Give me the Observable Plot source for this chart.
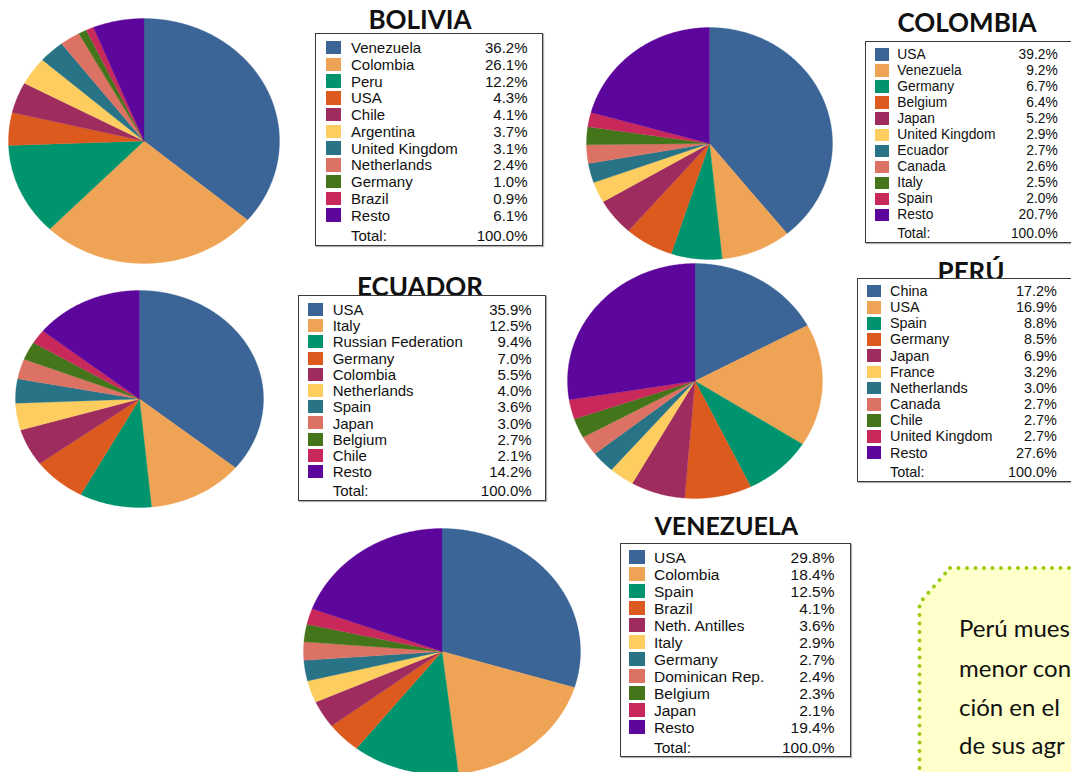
<!DOCTYPE html>
<html><head><meta charset="utf-8">
<script src="https://cdn.jsdelivr.net/npm/d3@7"></script>
<script src="https://cdn.jsdelivr.net/npm/@observablehq/plot@0.6"></script>
<style>
html,body{margin:0;padding:0;background:#fff;overflow:hidden}
#page{position:relative;width:1071px;height:772px;overflow:hidden;background:#fff}
.title{position:absolute;font-family:Lato,sans-serif;font-weight:700;line-height:1;color:#111;white-space:nowrap;transform:translateX(-50%)}
.legend{position:absolute;box-sizing:border-box;border:1px solid #3a3a3a;background:#fff;font-family:"Liberation Sans",Arial,sans-serif;color:#111;box-shadow:1px 1px 1px rgba(0,0,0,0.3)}
.legend .sw{position:absolute}
.legend .nm,.legend .pc{position:absolute;white-space:nowrap;line-height:1}
.legend .pc{text-align:right}
.pie{position:absolute}
.note{position:absolute;font-family:Lato,sans-serif;font-size:24px;line-height:24px;color:#111;white-space:nowrap}
</style></head><body><div id="page"></div>
<script>
// ---- data ----
const palette = ["#3b6597","#efa354","#00946e","#dd5a1e","#9e2c5f","#fdcd60","#297387","#dc7263","#44751a","#c9285a","#5d069b"];
const totalLabel = "Total:";
const totalValue = "100.0%";

const boliviaNames = ["Venezuela","Colombia","Peru","USA","Chile","Argentina","United Kingdom","Netherlands","Germany","Brazil","Resto"];
const boliviaValues = [36.2,26.1,12.2,4.3,4.1,3.7,3.1,2.4,1.0,0.9,6.1];

const colombiaNames = ["USA","Venezuela","Germany","Belgium","Japan","United Kingdom","Ecuador","Canada","Italy","Spain","Resto"];
const colombiaValues = [39.2,9.2,6.7,6.4,5.2,2.9,2.7,2.6,2.5,2.0,20.7];

const ecuadorNames = ["USA","Italy","Russian Federation","Germany","Colombia","Netherlands","Spain","Japan","Belgium","Chile","Resto"];
const ecuadorValues = [35.9,12.5,9.4,7.0,5.5,4.0,3.6,3.0,2.7,2.1,14.2];

const peruNames = ["China","USA","Spain","Germany","Japan","France","Netherlands","Canada","Chile","United Kingdom","Resto"];
const peruValues = [17.2,16.9,8.8,8.5,6.9,3.2,3.0,2.7,2.7,2.7,27.6];

const venezuelaNames = ["USA","Colombia","Spain","Brazil","Neth. Antilles","Italy","Germany","Dominican Rep.","Belgium","Japan","Resto"];
const venezuelaValues = [29.8,18.4,12.5,4.1,3.6,2.9,2.7,2.4,2.3,2.1,19.4];

const titles = ["BOLIVIA","COLOMBIA","ECUADOR","PERÚ","VENEZUELA"];
const noteLines = ["Perú mues","menor con","ción en el","de sus agr"];

// ---- helpers ----
const page = document.getElementById("page");

function slicePoints(names, values){
  const total = d3.sum(values);
  const pts = [];
  let acc = 0;
  names.forEach((n,i)=>{
    const a0 = acc/total*2*Math.PI; acc += values[i]; const a1 = acc/total*2*Math.PI;
    pts.push({name:n,x:0,y:0});
    const steps = Math.max(2, Math.ceil((a1-a0)/(Math.PI/360)));
    for(let k=0;k<=steps;k++){const a=a0+(a1-a0)*k/steps; pts.push({name:n,x:Math.sin(a),y:Math.cos(a)});}
    pts.push({name:n,x:0,y:0});
  });
  return pts;
}

function pie(names, values, cx, cy, rx, ry){
  const chart = Plot.plot({
    width: 2*rx, height: 2*ry, margin: 0,
    x:{domain:[-1,1], axis:null}, y:{domain:[-1,1], axis:null},
    color:{domain:names, range:palette},
    style:{background:"transparent", overflow:"visible"},
    marks:[Plot.line(slicePoints(names, values), {x:"x", y:"y", z:"name", fill:"name", stroke:"name", strokeWidth:0.3})]
  });
  chart.classList.add("pie");
  chart.style.left = (cx-rx)+"px"; chart.style.top = (cy-ry)+"px";
  page.appendChild(chart);
}

function title(text, cx, top, fs){
  const d = document.createElement("div");
  d.className = "title"; d.textContent = text;
  d.style.left = cx+"px"; d.style.top = top+"px"; d.style.fontSize = fs+"px";
  page.appendChild(d);
}

function legend(names, values, o){
  const box = document.createElement("div");
  box.className = "legend";
  Object.assign(box.style,{left:o.L+"px", top:o.T+"px", width:o.W+"px", height:o.H+"px", fontSize:o.fs+"px"});
  const add = (cls, css, txt) => {const e=document.createElement("div"); e.className=cls; Object.assign(e.style, css); if(txt!=null) e.textContent=txt; box.appendChild(e); return e;};
  names.forEach((n,i)=>{
    const c = o.T + o.row1 + i*o.pitch;
    add("sw",{left:(o.swX-o.L-1)+"px", top:(c-o.swH/2-o.T-1)+"px", width:o.swW+"px", height:o.swH+"px", background:palette[i]});
    add("nm",{left:(o.nameX-o.L-1)+"px", top:(c-0.49*o.fs-o.T-1)+"px"}, n);
    add("pc",{left:"0px", width:(o.pctR-o.L-1)+"px", top:(c-0.49*o.fs-o.T-1)+"px"}, values[i].toFixed(1)+"%");
  });
  const tc = o.T + o.total;
  add("nm",{left:(o.nameX-o.L-1)+"px", top:(tc-0.49*o.fs-o.T-1)+"px"}, totalLabel);
  add("pc",{left:"0px", width:(o.pctR-o.L-1)+"px", top:(tc-0.49*o.fs-o.T-1)+"px"}, totalValue);
  page.appendChild(box);
}

// ---- pies ----
pie(boliviaNames, boliviaValues, 143, 140, 135.5, 122.5);
pie(colombiaNames, colombiaValues, 708.5, 142.5, 123, 116);
pie(ecuadorNames, ecuadorValues, 139, 398.5, 124, 108.5);
pie(peruNames, peruValues, 694, 380, 127.5, 117.5);
pie(venezuelaNames, venezuelaValues, 441.5, 650.5, 138.5, 123);

// ---- titles ----
title(titles[0], 420, 5.7, 26);
title(titles[1], 967, 9, 26);
title(titles[2], 420, 273, 26);
title(titles[3], 971, 258, 26);
title(titles[4], 726.3, 512.5, 25);

// ---- legends ----
legend(boliviaNames, boliviaValues, {L:315,T:33,W:228,H:213,fs:15,row1:14.5,pitch:16.75,swX:326,swW:15,swH:13.5,nameX:351,pctR:527.5,total:202});
legend(colombiaNames, colombiaValues, {L:864.5,T:41,W:212,H:202,fs:13.8,row1:13.7,pitch:16.03,swX:875,swW:14,swH:12.7,nameX:897.3,pctR:1057.7,total:192.3});
legend(ecuadorNames, ecuadorValues, {L:297.5,T:295,W:248.5,H:205.5,fs:15,row1:14.3,pitch:16.24,swX:307.7,swW:15,swH:13,nameX:332.7,pctR:531.7,total:195});
legend(peruNames, peruValues, {L:857,T:278,W:216,H:203.5,fs:14.4,row1:13,pitch:16.17,swX:867,swW:13.7,swH:12.7,nameX:890,pctR:1056.7,total:193.7});
legend(venezuelaNames, venezuelaValues, {L:619.5,T:542.5,W:231.5,H:214.5,fs:15.5,row1:14.8,pitch:17,swX:629,swW:16,swH:14,nameX:654,pctR:834.5,total:204.8});

// ---- note box ----
const ns = "http://www.w3.org/2000/svg";
const svg = document.createElementNS(ns,"svg");
svg.setAttribute("width","200"); svg.setAttribute("height","240");
Object.assign(svg.style,{position:"absolute", left:"900px", top:"550px"});
const poly = document.createElementNS(ns,"polygon");
poly.setAttribute("points","50,18 220,18 220,260 19.5,260 19.5,53");
poly.setAttribute("fill","#ffffcc");
poly.setAttribute("stroke","#9ccc12");
poly.setAttribute("stroke-width","4");
poly.setAttribute("stroke-linecap","round");
poly.setAttribute("stroke-dasharray","0 8.5");
svg.appendChild(poly);
page.appendChild(svg);
const noteTops = [616, 655.7, 694.7, 732.7];
noteLines.forEach((t,i)=>{
  const d=document.createElement("div"); d.className="note"; d.textContent=t;
  d.style.left="959px"; d.style.top=noteTops[i]+"px"; page.appendChild(d);
});
</script></body></html>
